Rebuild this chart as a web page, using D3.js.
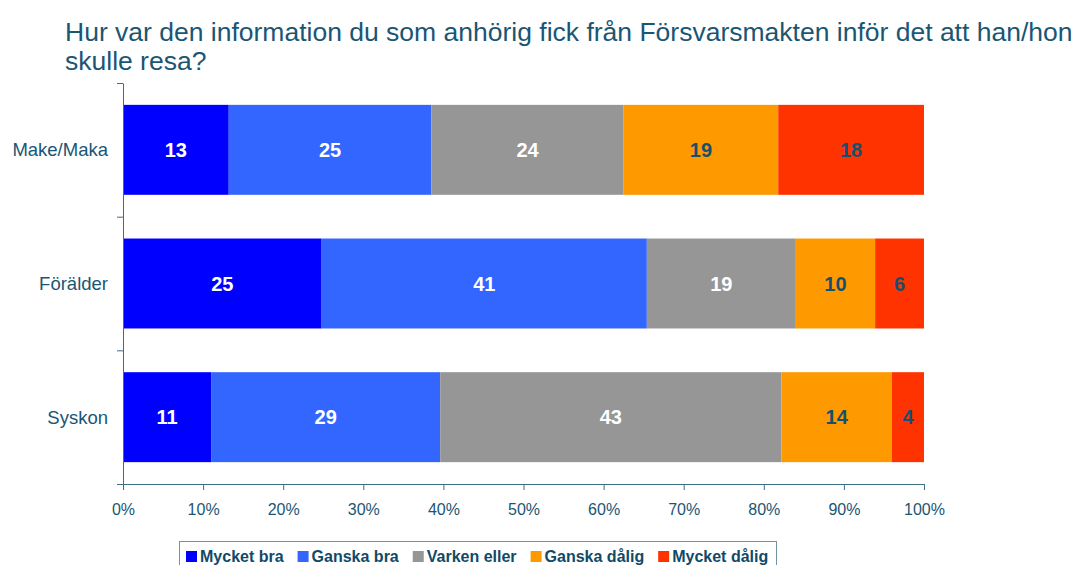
<!DOCTYPE html>
<html>
<head>
<meta charset="utf-8">
<script src="https://cdn.jsdelivr.net/npm/d3@7"></script>
<style>
body { margin:0; background:#fff; }
svg { font-family: "Liberation Sans", Arial, sans-serif; }
.title { font-size:26.5px; fill:#1a5674; }
.rowLabel { font-size:18.5px; fill:#1a5674; }
.axis text { font-size:16px; fill:#1a5674; font-family:"Liberation Sans", Arial, sans-serif; }
.axis path, .axis line { stroke:#3f6f86; }
.barLabel { font-size:20px; font-weight:bold; }
.legend text { font-size:16px; font-weight:bold; fill:#104a68; }
</style>
</head>
<body>
<svg id="myGraph" width="1082" height="565"></svg>
<script>
// chart data
var categories = ["Make/Maka", "Förälder", "Syskon"];
var seriesNames = ["Mycket bra", "Ganska bra", "Varken eller", "Ganska dålig", "Mycket dålig"];
var mycketBra   = [13.2, 24.8, 11.0];
var ganskaBra   = [25.3, 40.6, 28.6];
var varkenEller = [24.0, 18.6, 42.6];
var ganskaDalig = [19.3,  9.9, 13.8];
var mycketDalig = [18.2,  6.1,  4.0];
var xTicks = [0, 10, 20, 30, 40, 50, 60, 70, 80, 90, 100];
var titleLines = ["Hur var den information du som anhörig fick från Försvarsmakten inför det att han/hon", "skulle resa?"];

var colors = ["#0000ff", "#3366ff", "#969696", "#ff9900", "#ff3300"];
var labelColors = ["#ffffff", "#ffffff", "#ffffff", "#17506c", "#17506c"];

var svg = d3.select("#myGraph");
var plotLeft = 123, plotRight = 924, plotTop = 83, plotBottom = 484;

// rows for the stack
var table = categories.map(function(c, i){
	var row = { cat: c };
	row[seriesNames[0]] = mycketBra[i];
	row[seriesNames[1]] = ganskaBra[i];
	row[seriesNames[2]] = varkenEller[i];
	row[seriesNames[3]] = ganskaDalig[i];
	row[seriesNames[4]] = mycketDalig[i];
	return row;
});
var stacked = d3.stack().keys(seriesNames)(table);

var xScale = d3.scaleLinear().domain([0, 100]).range([plotLeft, plotRight]);
var yScale = d3.scaleBand().domain(categories).range([plotTop, plotBottom])
	.paddingInner(0.327).paddingOuter(0.1635);
// scale for the tick marks between the rows
var yTickScale = d3.scaleLinear().domain([0, categories.length]).range([plotTop, plotBottom]);

// title
svg.append("g").selectAll("text")
	.data(titleLines)
	.enter().append("text")
	.attr("class", "title")
	.attr("x", 65)
	.attr("y", function(d, i){ return 41 + i * 29; })
	.text(function(d){ return d; });

// bars
var layers = svg.append("g").selectAll("g")
	.data(stacked)
	.enter().append("g")
	.attr("fill", function(d, i){ return colors[i]; });

layers.selectAll("rect")
	.data(function(d){ return d; })
	.enter().append("rect")
	.attr("x", function(d){ return xScale(d[0]); })
	.attr("y", function(d){ return yScale(d.data.cat); })
	.attr("width", function(d){ return xScale(d[1]) - xScale(d[0]); })
	.attr("height", yScale.bandwidth());

// value labels
layers.selectAll("text")
	.data(function(d, i){ return d.map(function(p){ return { p: p, i: i }; }); })
	.enter().append("text")
	.attr("class", "barLabel")
	.attr("text-anchor", "middle")
	.attr("x", function(d){ return (xScale(d.p[0]) + xScale(d.p[1])) / 2; })
	.attr("y", function(d){ return yScale(d.p.data.cat) + yScale.bandwidth() / 2; })
	.attr("dy", "0.35em")
	.attr("fill", function(d){ return labelColors[d.i]; })
	.text(function(d){ return d3.format(".0f")(d.p[1] - d.p[0]); });

// y axis (ticks between the rows)
svg.append("g")
	.attr("class", "axis")
	.attr("transform", "translate(" + plotLeft + ",0)")
	.call(d3.axisLeft(yTickScale).tickValues(d3.range(categories.length + 1)).tickFormat("").tickSize(6).tickSizeOuter(0));

// row labels
svg.append("g").selectAll("text")
	.data(categories)
	.enter().append("text")
	.attr("class", "rowLabel")
	.attr("text-anchor", "end")
	.attr("x", 108)
	.attr("y", function(d){ return yScale(d) + yScale.bandwidth() / 2; })
	.attr("dy", "0.35em")
	.text(function(d){ return d; });

// x axis
svg.append("g")
	.attr("class", "axis")
	.attr("transform", "translate(0," + plotBottom + ")")
	.call(d3.axisBottom(xScale).tickValues(xTicks).tickFormat(function(d){ return d + "%"; }).tickSize(6).tickSizeOuter(0).tickPadding(14));

// legend
var legend = svg.append("g").attr("class", "legend");
legend.append("rect")
	.attr("x", 179.5).attr("y", 541.5)
	.attr("width", 597).attr("height", 30)
	.attr("fill", "#fff").attr("stroke", "#6f93a5");
var lx = 186;
seriesNames.forEach(function(name, i){
	legend.append("rect")
		.attr("x", lx).attr("y", 551)
		.attr("width", 11).attr("height", 11)
		.attr("fill", colors[i]);
	var t = legend.append("text")
		.attr("x", lx + 14).attr("y", 562)
		.text(name);
	lx = lx + 14 + t.node().getComputedTextLength() + 14;
});
</script>
</body>
</html>
